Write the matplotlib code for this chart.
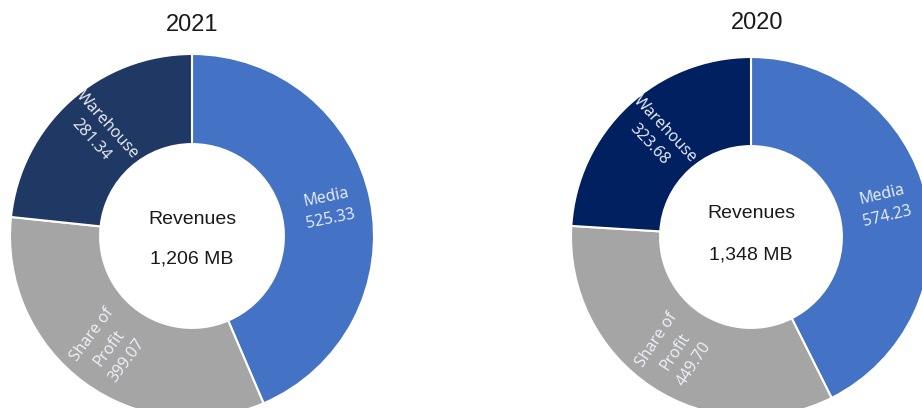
import matplotlib
matplotlib.use("Agg")
import matplotlib.pyplot as plt
import numpy as np

categories = ["Media", "Share of\nProfit", "Warehouse"]
years = ["2021", "2020"]
values_2021 = [525.33, 399.07, 281.34]
values_2020 = [574.23, 449.70, 323.68]
totals = ["1,206 MB", "1,348 MB"]
colors_2021 = ["#4472C4", "#A5A5A5", "#203864"]
colors_2020 = ["#4472C4", "#A5A5A5", "#002060"]

W, H = 922, 408
fig = plt.figure(figsize=(W / 100, H / 100), dpi=100)
ax = fig.add_axes([0, 0, 1, 1])

# layout in pixel units (y measured upward)
layouts = [
    dict(center=(192, H - 236), radius=182, title_xy=(192, H - 25), off=(17, -23)),
    dict(center=(751, H - 237), radius=180, title_xy=(757, H - 23), off=(23, -18)),
]
inner_frac = 0.505

for vals, cols, year, tot, lay in zip([values_2021, values_2020],
                                      [colors_2021, colors_2020],
                                      years, totals, layouts):
    cx, cy = lay["center"]
    R = lay["radius"]
    wedges, _ = ax.pie(vals, colors=cols, startangle=90, counterclock=False,
                       center=(cx, cy), radius=R,
                       wedgeprops=dict(width=R * (1 - inner_frac),
                                       edgecolor="white", linewidth=1.5))
    for w, cat, v in zip(wedges, categories, vals):
        mid = (w.theta1 + w.theta2) / 2.0
        r_lab = R * (1 + inner_frac) / 2.0 + 2
        x = cx + r_lab * np.cos(np.radians(mid))
        y = cy + r_lab * np.sin(np.radians(mid))
        a = ((mid + 180) % 360) - 180
        rot = a if -90 <= a <= 90 else a - 180
        ax.text(x, y, f"{cat}\n{v:.2f}", rotation=rot, rotation_mode="anchor",
                ha="center", va="center", color="#EEF2FA", fontsize=11.5,
                family=["Open Sans", "DejaVu Sans"], linespacing=1.5)
    ax.text(cx, cy + lay["off"][0], "Revenues", ha="center", va="center",
            fontsize=14, color="#1a1a1a", family=["Liberation Sans", "DejaVu Sans"])
    ax.text(cx, cy + lay["off"][1], tot, ha="center", va="center",
            fontsize=14, color="#1a1a1a", family=["Liberation Sans", "DejaVu Sans"])
    ax.text(lay["title_xy"][0], lay["title_xy"][1], year, ha="center", va="center",
            fontsize=17, color="#1a1a1a", family=["Liberation Sans", "DejaVu Sans"])

ax.set_xlim(0, W)
ax.set_ylim(0, H)
ax.set_aspect("auto")
ax.axis("off")

fig.savefig("out.png", dpi=100)
